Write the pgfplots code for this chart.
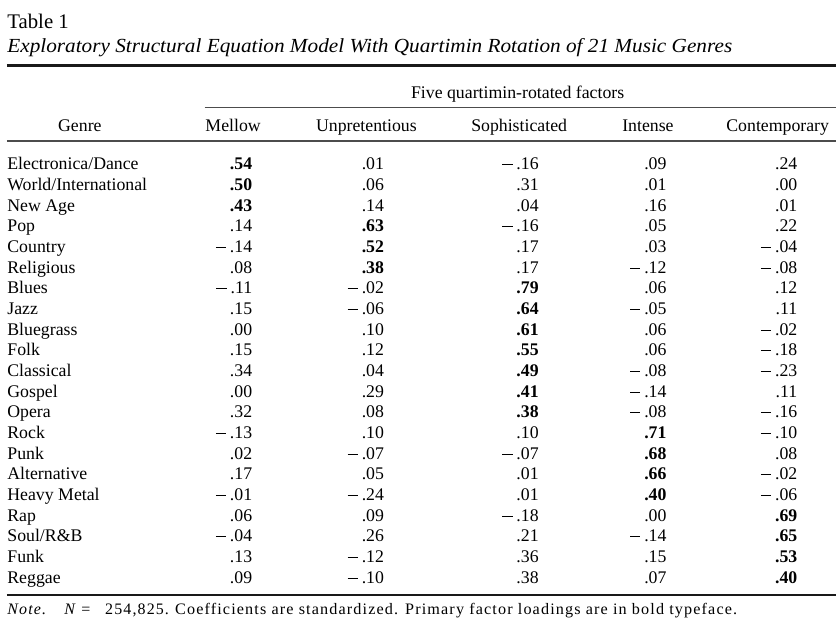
\documentclass[border=0pt]{standalone}
\usepackage{fontspec}
\setmainfont{Liberation Serif}
\newfontfamily\notefont{Liberation Serif}[LetterSpace=7]
\usepackage{graphicx}
\usepackage{pgfplots}
\usepackage{pgfplotstable}
\pgfplotsset{compat=1.18}

% loadings, prim = column of the primary factor (printed bold)
\pgfplotstableread[col sep=comma]{
genre,mellow,unpret,soph,intense,contemp,prim
Electronica/Dance,0.54,0.01,-0.16,0.09,0.24,1
World/International,0.50,0.06,0.31,0.01,0.00,1
New Age,0.43,0.14,0.04,0.16,0.01,1
Pop,0.14,0.63,-0.16,0.05,0.22,2
Country,-0.14,0.52,0.17,0.03,-0.04,2
Religious,0.08,0.38,0.17,-0.12,-0.08,2
Blues,-0.11,-0.02,0.79,0.06,0.12,3
Jazz,0.15,-0.06,0.64,-0.05,0.11,3
Bluegrass,0.00,0.10,0.61,0.06,-0.02,3
Folk,0.15,0.12,0.55,0.06,-0.18,3
Classical,0.34,0.04,0.49,-0.08,-0.23,3
Gospel,0.00,0.29,0.41,-0.14,0.11,3
Opera,0.32,0.08,0.38,-0.08,-0.16,3
Rock,-0.13,0.10,0.10,0.71,-0.10,4
Punk,0.02,-0.07,-0.07,0.68,0.08,4
Alternative,0.17,0.05,0.01,0.66,-0.02,4
Heavy Metal,-0.01,-0.24,0.01,0.40,-0.06,4
Rap,0.06,0.09,-0.18,0.00,0.69,5
Soul/R\&B,-0.04,0.26,0.21,-0.14,0.65,5
Funk,0.13,-0.12,0.36,0.15,0.53,5
Reggae,0.09,-0.10,0.38,0.07,0.40,5
}\loadings

% prints a loading as .54 / − .16
\newcommand\loadfmt[1]{%
  \pgfmathparse{#1<0}\let\isneg\pgfmathresult
  \pgfmathparse{abs(#1)}%
  \ifdim\isneg pt>0.5pt \rule[.25em]{.58em}{.05em}\kern.22em\fi
  \pgfmathprintnumber[fixed,fixed zerofill,precision=2,skip 0.,assume math mode=true]{\pgfmathresult}}

\newcommand\body{\fontsize{8.9}{10}\selectfont}
\newcommand\notesize{\notefont\fontsize{8}{9}\selectfont}

\pgfplotsset{
  % #1 factor number, #2 = 1 for the primary loadings, 0 for the rest
  loadcol/.style n args={2}{
    draw=none, mark=none,
    point meta=explicit symbolic,
    nodes near coords={\loadfmt{\pgfplotspointmeta}},
    restrict expr to domain={\thisrow{prim}==#1}{#2:#2},
  },
  primary/.style={every node near coord/.append style={font=\body\bfseries}},
}

\begin{document}
\begin{tikzpicture}
\begin{axis}[
  x=0.5pt, y=0.5pt, y dir=reverse,
  xmin=0, xmax=837, ymin=0, ymax=642,
  hide axis, clip=false,
  every node near coord/.style={anchor=base east, inner sep=0pt, font=\body, text=black},
]
  % title
  \node[anchor=base west, inner sep=0pt, font=\fontsize{10.4}{12}\selectfont] at (axis cs:7,29) {Table 1};
  \node[anchor=base west, inner sep=0pt, font=\fontsize{10}{12}\selectfont\itshape] at (axis cs:7,53)
    {\resizebox{363pt}{\height}{Exploratory Structural Equation Model With Quartimin Rotation of 21 Music Genres}};
  \draw[line width=1.4pt, black!90] (axis cs:7,65.5) -- (axis cs:837,65.5);

  % header
  \node[anchor=base, inner sep=0pt, font=\body] at (axis cs:518.5,98.5) {Five quartimin-rotated factors};
  \draw[line width=0.7pt, black!70] (axis cs:205,107.5) -- (axis cs:837,107.5);
  \node[anchor=base, inner sep=0pt, font=\body] at (axis cs:80,132) {Genre};
  \node[anchor=base, inner sep=0pt, font=\body] at (axis cs:233.5,132) {Mellow};
  \node[anchor=base, inner sep=0pt, font=\body] at (axis cs:367,132) {Unpretentious};
  \node[anchor=base, inner sep=0pt, font=\body] at (axis cs:520,132) {Sophisticated};
  \node[anchor=base, inner sep=0pt, font=\body] at (axis cs:649,132) {Intense};
  \node[anchor=base, inner sep=0pt, font=\body] at (axis cs:779,132) {Contemporary};
  \draw[line width=0.8pt, black!70] (axis cs:7,141.5) -- (axis cs:837,141.5);

  % rows
  \addplot[draw=none, mark=none, point meta=explicit symbolic,
    nodes near coords={\pgfplotspointmeta},
    every node near coord/.append style={anchor=base west}]
    table[x expr=7, y expr=170+20.7*\coordindex, meta=genre] {\loadings};

  \addplot[loadcol={1}{0}]          table[x expr=253, y expr=170+20.7*\coordindex, meta=mellow] {\loadings};
  \addplot[loadcol={1}{1}, primary] table[x expr=253, y expr=170+20.7*\coordindex, meta=mellow] {\loadings};
  \addplot[loadcol={2}{0}]          table[x expr=385, y expr=170+20.7*\coordindex, meta=unpret] {\loadings};
  \addplot[loadcol={2}{1}, primary] table[x expr=385, y expr=170+20.7*\coordindex, meta=unpret] {\loadings};
  \addplot[loadcol={3}{0}]          table[x expr=540, y expr=170+20.7*\coordindex, meta=soph] {\loadings};
  \addplot[loadcol={3}{1}, primary] table[x expr=540, y expr=170+20.7*\coordindex, meta=soph] {\loadings};
  \addplot[loadcol={4}{0}]          table[x expr=668, y expr=170+20.7*\coordindex, meta=intense] {\loadings};
  \addplot[loadcol={4}{1}, primary] table[x expr=668, y expr=170+20.7*\coordindex, meta=intense] {\loadings};
  \addplot[loadcol={5}{0}]          table[x expr=799, y expr=170+20.7*\coordindex, meta=contemp] {\loadings};
  \addplot[loadcol={5}{1}, primary] table[x expr=799, y expr=170+20.7*\coordindex, meta=contemp] {\loadings};

  \draw[line width=1.4pt, black!90] (axis cs:7,596) -- (axis cs:837,596);
  % note
  \node[anchor=base west, inner sep=0pt, font=\notesize] at (axis cs:7,616) {\textit{Note.}};
  \node[anchor=base west, inner sep=0pt, font=\notesize] at (axis cs:64,616) {\textit{N}};
  \node[anchor=base west, inner sep=0pt, font=\notesize] at (axis cs:81,616) {=};
  \node[anchor=base west, inner sep=0pt, font=\notesize] at (axis cs:105,616) {254,825.};
  \node[anchor=base west, inner sep=0pt, font=\notesize] at (axis cs:175,616)
    {\resizebox{281.5pt}{\height}{Coefficients are standardized. Primary factor loadings are in bold typeface.}};
\end{axis}
\path (current axis.south west) rectangle (current axis.north east);
\end{tikzpicture}
\end{document}
